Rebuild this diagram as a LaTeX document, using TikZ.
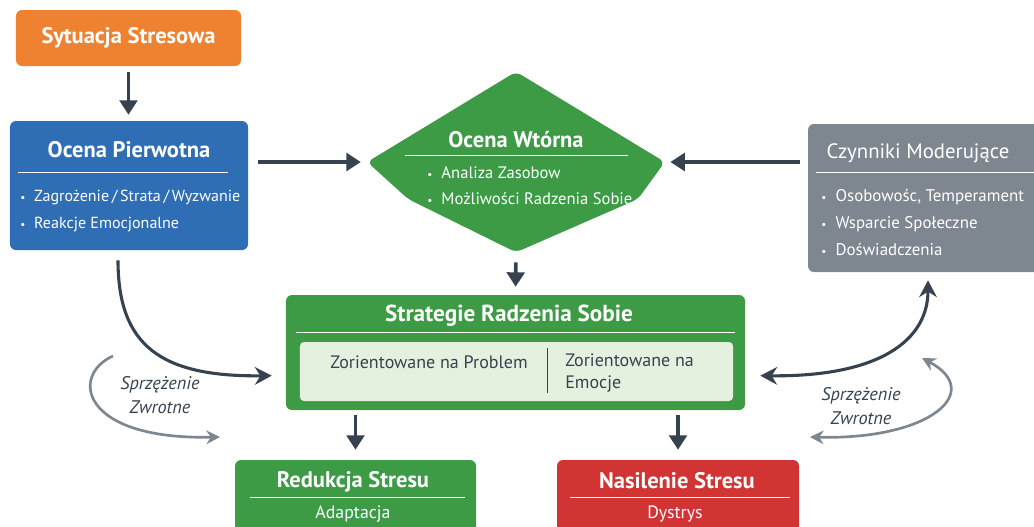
\documentclass[tikz,border=0pt]{standalone}
\usepackage{fontspec}
\setmainfont{PT Sans}
\usepackage{xcolor}
\usepackage{tikz}
\usetikzlibrary{arrows.meta,shapes.geometric}

\definecolor{stressorange}{HTML}{EF8230}
\definecolor{appraisalblue}{HTML}{2F6EB5}
\definecolor{copinggreen}{HTML}{3D9B46}
\definecolor{copinglight}{HTML}{E3F1DE}
\definecolor{moderatorgray}{HTML}{7E868F}
\definecolor{distressred}{HTML}{D23333}
\definecolor{arrowdark}{HTML}{36434F}
\definecolor{arrowgray}{HTML}{7C8792}

\newcommand{\bul}{{\fontsize{8}{8}\selectfont\textbullet}\hspace{0.55em}}

\tikzset{
  Box/.style   = {rectangle, rounded corners=1.5mm, inner sep=0pt},
  Title/.style = {text=white, font=\fontsize{16}{19}\selectfont\bfseries},
  Item/.style  = {text=white, anchor=west, inner sep=0pt, font=\fontsize{12.5}{15}\selectfont},
  Rule/.style  = {white, line width=0.7pt},
  Flow/.style  = {arrowdark, line width=2.6pt, -{Triangle[length=3.6mm,width=4.4mm]}},
  Bend/.style  = {arrowdark, line width=2.2pt},
  Loop/.style  = {arrowgray, line width=1.9pt},
  FbText/.style = {text=arrowdark, align=center, font=\fontsize{13}{17.5}\selectfont\itshape}
}

\begin{document}
\begin{tikzpicture}[x=0.25mm, y=-0.25mm]
    \useasboundingbox (0,0) rectangle (1034,526);

    % boxes
    \node[Box, fill=stressorange, minimum width=56.25mm, minimum height=14mm,
          Title] (sit) at (128.5,38) {Sytuacja Stresowa};

    \node[Box, fill=appraisalblue, minimum width=59.5mm, minimum height=32.25mm] (pierw) at (129,185.5) {};
    \node[Title] (pierwT) at (129,150) {Ocena Pierwotna};
    \draw[Rule] (18,172) -- (228,172);
    \node[Item, font=\fontsize{11.4}{14}\selectfont] (pierw1) at (20,197) {\bul Zagrożenie\,/\,Strata\,/\,Wyzwanie};
    \node[Item, font=\fontsize{11.4}{14}\selectfont] (pierw2) at (20,225) {\bul Reakcje Emocjonalne};

    \node[diamond, aspect=1.65, minimum width=74.25mm, minimum height=45mm, inner sep=0pt] (wtor) at (516,162) {};
    \fill[copinggreen, rounded corners=1.5mm] (wtor.west) -- (wtor.north) -- (wtor.east)
        -- (638,199) -- (wtor.south) -- (408,199) -- cycle;
    \node[Title] (wtorT) at (516,140) {Ocena Wtórna};
    \draw[Rule] (405,155) -- (628,155);
    \node[Item, font=\fontsize{11.8}{14}\selectfont] (wtor1) at (427,173) {\bul Analiza Zasobow};
    \node[Item, font=\fontsize{11.8}{14}\selectfont] (wtor2) at (427,199) {\bul Możliwości Radzenia Sobie};

    \node[Box, fill=moderatorgray, minimum width=58mm, minimum height=37mm] (czyn) at (924,198) {};
    \node[Title, font=\fontsize{14.8}{17}\selectfont] (czynT) at (918,153) {Czynniki Moderujące};
    \draw[Rule] (816,172) -- (1034,172);
    \node[Item, font=\fontsize{12}{14}\selectfont] (czyn1) at (821,197) {\bul Osobowośc, Temperament};
    \node[Item, font=\fontsize{12}{14}\selectfont] (czyn2) at (821,224) {\bul Wsparcie Społeczne};
    \node[Item, font=\fontsize{12}{14}\selectfont] (czyn3) at (821,250) {\bul Doświadczenia};

    \node[Box, fill=copinggreen, minimum width=114.75mm, minimum height=28.75mm] (strat) at (515.5,352.5) {};
    \node[Title, font=\fontsize{16.5}{19}\selectfont\bfseries] (stratT) at (509,316) {Strategie Radzenia Sobie};
    \draw[Rule] (296,332) -- (735,332);
    \node[Box, fill=copinglight, rounded corners=1mm, minimum width=108.25mm, minimum height=14.75mm] (inner) at (516.5,371.5) {};
    \draw[arrowdark, line width=0.6pt] (547,348) -- (547,393);
    \node[Item, text=arrowdark, anchor=center, font=\fontsize{12.8}{15}\selectfont] (probl) at (429,362) {Zorientowane na Problem};
    \node[Item, text=arrowdark, align=left, font=\fontsize{12.8}{15.6}\selectfont] (emoc) at (565,373) {Zorientowane na\\Emocje};

    \node[Box, fill=copinggreen, minimum width=60.25mm, minimum height=18.5mm] (redu) at (355.5,497) {};
    \node[Title] (reduT) at (353,482) {Redukcja Stresu};
    \draw[Rule] (250,497) -- (465,497);
    \node[Item, anchor=center, font=\fontsize{12.7}{15}\selectfont] (redu1) at (353,514) {Adaptacja};

    \node[Box, fill=distressred, minimum width=60.5mm, minimum height=18.5mm] (nasi) at (678,497) {};
    \node[Title] (nasiT) at (677,481) {Nasilenie Stresu};
    \draw[Rule] (570,497) -- (790,497);
    \node[Item, anchor=center, font=\fontsize{12.7}{15}\selectfont] (nasi1) at (675,514) {Dystrys};

    % straight connectors
    \draw[Flow, shorten <=1.5mm, shorten >=1.5mm] (sit.south) -- (sit.south |- pierw.north);
    \draw[Flow, shorten <=2.5mm, shorten >=1.6mm] (pierw.east |- wtor.west) -- (wtor.west);
    \draw[Flow, shorten <=2mm, shorten >=1.4mm] (czyn.west |- wtor.east) -- (wtor.east);
    \draw[Flow, shorten <=2.5mm, shorten >=2mm] (wtor.south) -- (strat.north);
    \draw[Flow, shorten <=1.25mm, shorten >=2.5mm] (strat.south -| redu.north) -- (redu.north);
    \draw[Flow, shorten <=1.25mm, shorten >=2.5mm] (strat.south -| nasi.north) -- (nasi.north);

    % curved connectors
    \draw[Bend, -{Stealth[length=4.2mm,width=4.4mm]}, shorten >=3.5mm]
        ([xshift=-2.75mm, yshift=-2.5mm]pierw.south) .. controls (118,345) and (160,377) .. ([yshift=-5.75mm]strat.west);
    \draw[Bend, {Stealth[length=4.2mm,width=4.4mm]}-{Stealth[length=4.2mm,width=4.4mm]}, shorten <=3.75mm, shorten >=2mm]
        ([yshift=-5.75mm]strat.east) .. controls (880,377) and (928,340) .. ([xshift=1mm]czyn.south);

    % feedback loops
    \coordinate (fbL1) at (113,356);
    \coordinate (fbL2) at (220,437);
    \coordinate (fbR1) at (810,437);
    \coordinate (fbR2) at (922,358);
    \draw[Loop, -{Stealth[length=3.4mm,width=3.4mm]}] (fbL1) .. controls (70,375) and (80,440) .. (fbL2);
    \draw[Loop, {Stealth[length=3.4mm,width=3.4mm]}-{Stealth[length=3.4mm,width=3.4mm]}] (fbR1) .. controls (930,440) and (985,392) .. (fbR2);
    \node[FbText] (fbLtxt) at (160,395) {Sprzężenie\\Zwrotne};
    \node[FbText] (fbRtxt) at (861,406) {Sprzężenie\\Zwrotne};

\end{tikzpicture}
\end{document}
